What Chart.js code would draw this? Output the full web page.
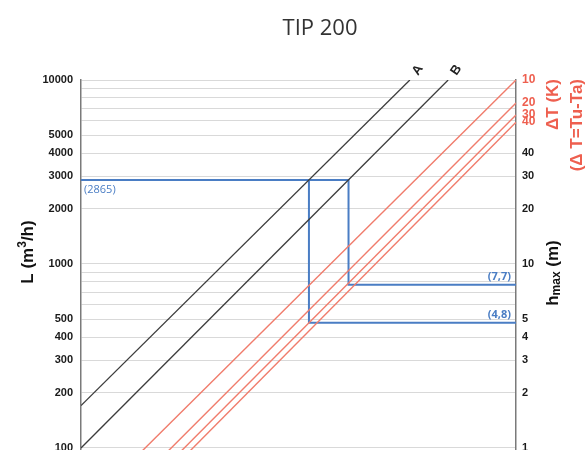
<!DOCTYPE html>
<html><head><meta charset="utf-8">
<script src="https://cdn.jsdelivr.net/npm/chart.js@4"></script>
<style>html,body{margin:0;padding:0;background:#fff;}canvas{display:block;}</style>
</head><body>
<canvas id="c" width="588" height="450"></canvas>
<script>
// ---- data ----
const chartTitle = 'TIP 200';
const flowTicks = [100,200,300,400,500,1000,2000,3000,4000,5000,10000];          // L (m3/h) labels
const gridValues = [100,200,300,400,500,600,700,800,900,1000,2000,3000,4000,5000,6000,7000,8000,9000,10000];
const hTicks = [1,2,3,4,5,10,20,30,40];                                           // h max (m) labels
const deltaT = [10,20,30,40];                                                      // ΔT (K)
const deltaTEndFlow = [10000,7500,6450,5900];   // L where each ΔT line meets the right axis
const deltaTStartPos = [13.8,19.8,22.8,24.8];   // horizontal position (%) of each ΔT line at L = 95
const deltaTStartFlow = 95;
const lineNames = ['A','B'];
const lineStartFlow = [170,100];                // L at the left axis
const lineEndPos = [75.6,84.4];                 // horizontal position (%) at L = 10000
const lineEndFlow = 10000;
const readFlow = 2865;
const readPos = [52.4,61.5];                    // where L = 2865 crosses A and B
const readH = [4.8,7.7];                        // h max read on the right axis
const readLabels = ['(4,8)','(7,7)'];
const flowLabel = '(2865)';

const RED = '#ee5f4f', RED_LINE = '#f07c6c', BLUE = '#4a7dc4', DARK = '#3c3c3c';

const datasets = [];
deltaT.forEach((t,i)=>{
  datasets.push({label:'ΔT '+t, data:[{x:deltaTStartPos[i],y:deltaTStartFlow},{x:100,y:deltaTEndFlow[i]}],
    borderColor:RED_LINE, borderWidth:1.4});
});
lineNames.forEach((n,i)=>{
  datasets.push({label:n, data:[{x:0,y:lineStartFlow[i]},{x:lineEndPos[i],y:lineEndFlow}],
    borderColor:DARK, borderWidth:1.3});
});
datasets.push({label:'read B', data:[{x:0,y:readFlow},{x:readPos[1],y:readFlow},{x:readPos[1],y:readH[1]*100},{x:100,y:readH[1]*100}],
  borderColor:BLUE, borderWidth:2});
datasets.push({label:'read A', data:[{x:readPos[0],y:readFlow},{x:readPos[0],y:readH[0]*100},{x:100,y:readH[0]*100}],
  borderColor:BLUE, borderWidth:2});
datasets.forEach(d=>{d.showLine=true;d.pointRadius=0;d.fill=false;d.tension=0;});

function rightLabel(v){
  const h = hTicks.findIndex(k=>k*100===v);
  if (h>=0) return {text:String(hTicks[h]), red:false};
  const t = deltaTEndFlow.indexOf(v);
  if (t>=0) return {text:String(deltaT[t]), red:true};
  return {text:'', red:false};
}

function drawSegments(ctx, segs, cx, cy, rot){
  // segs: [{text,font,dy,color}] drawn along the baseline, centred on (cx,cy)
  ctx.save();
  ctx.translate(cx,cy); ctx.rotate(rot);
  let total=0; segs.forEach(s=>{ctx.font=s.font; s.w=ctx.measureText(s.text).width; total+=s.w;});
  let x=-total/2;
  ctx.textBaseline='middle'; ctx.textAlign='left';
  segs.forEach(s=>{ctx.font=s.font; ctx.fillStyle=s.color; ctx.fillText(s.text,x,s.dy||0); x+=s.w;});
  ctx.restore();
}

const textPlugin = {
  id:'texts',
  afterDatasetsDraw(chart){
    const {ctx, scales:{x,y}} = chart;
    ctx.save();
    // title
    ctx.fillStyle='#333'; ctx.font='400 22px "Open Sans"'; ctx.textAlign='center'; ctx.textBaseline='middle';
    ctx.fillText(chartTitle, 320, 29);
    // A / B labels
    ctx.fillStyle='#222'; ctx.font='bold 13px "Liberation Sans"';
    lineNames.forEach((n,i)=>{
      const px=x.getPixelForValue(lineEndPos[i]), py=y.getPixelForValue(lineEndFlow);
      ctx.save(); ctx.translate(px+8,py-10); ctx.rotate(-55*Math.PI/180);
      ctx.textAlign='center'; ctx.textBaseline='middle'; ctx.fillText(n,0,0); ctx.restore();
    });
    // blue annotations
    ctx.fillStyle=BLUE; ctx.textBaseline='middle';
    ctx.font='11px "Open Sans"'; ctx.textAlign='left';
    ctx.fillText(flowLabel, x.left+3, y.getPixelForValue(readFlow)+10);
    ctx.font='bold 11px "Open Sans"'; ctx.textAlign='right';
    readH.forEach((h,i)=>{ ctx.fillText(readLabels[i], x.right-5, y.getPixelForValue(h*100)-8); });
    ctx.restore();
    // axis titles
    const B17='bold 17px "Liberation Sans"', B12='bold 12px "Liberation Sans"';
    drawSegments(ctx,[{text:'L (m',font:B17,color:'#111'},{text:'3',font:B12,dy:-5,color:'#111'},{text:'/h)',font:B17,color:'#111'}],28,252,-Math.PI/2);
    drawSegments(ctx,[{text:'h',font:B17,color:'#111'},{text:'max',font:B12,dy:4,color:'#111'},{text:' (m)',font:B17,color:'#111'}],553,273,-Math.PI/2);
    ctx.save();
    ctx.fillStyle=RED; ctx.font=B17; ctx.textAlign='right'; ctx.textBaseline='middle';
    ctx.translate(553,79); ctx.rotate(-Math.PI/2); ctx.fillText('ΔT (K)',0,0); ctx.restore();
    ctx.save();
    ctx.fillStyle=RED; ctx.font=B17; ctx.textAlign='right'; ctx.textBaseline='middle';
    ctx.translate(577,79); ctx.rotate(-Math.PI/2); ctx.fillText('(Δ T=Tu-Ta)',0,0); ctx.restore();
  }
};

new Chart(document.getElementById('c'), {
  type:'scatter',
  data:{datasets},
  options:{
    responsive:false, animation:false, devicePixelRatio:1,
    layout:{padding:{top:80,bottom:0,left:0,right:0}},
    plugins:{legend:{display:false}, tooltip:{enabled:false}, title:{display:false}},
    scales:{
      x:{type:'linear', min:0, max:100, display:false},
      y:{type:'logarithmic', position:'left', min:97.5, max:10000,
        afterBuildTicks:(s)=>{ s.ticks = gridValues.map(v=>({value:v})); },
        afterFit:(s)=>{ s.width=81; s.paddingTop=0; s.paddingBottom=0; },
        grid:{color:'#d9d9d9', lineWidth:1, drawTicks:false},
        border:{display:true, color:'#7a7a7a', width:1.5},
        ticks:{autoSkip:false, padding:8, color:'#1a1a1a',
          font:{family:'Liberation Sans', weight:'bold', size:11},
          callback:(v)=> flowTicks.includes(v) ? String(v) : ''}
      },
      y2:{type:'logarithmic', position:'right', min:97.5, max:10000,
        afterBuildTicks:(s)=>{ s.ticks = hTicks.map(h=>h*100).concat(deltaTEndFlow).sort((a,b)=>a-b).map(v=>({value:v})); },
        afterFit:(s)=>{ s.width=72; s.paddingTop=0; s.paddingBottom=0; },
        grid:{drawOnChartArea:false, drawTicks:false},
        border:{display:true, color:'#7a7a7a', width:1.5},
        ticks:{autoSkip:false, padding:6,
          callback:(v)=> rightLabel(v).text,
          color:(c)=> (c.tick && rightLabel(c.tick.value).red) ? RED : '#1a1a1a',
          font:(c)=> ({family:'Liberation Sans', weight:'bold', size:(c.tick && rightLabel(c.tick.value).red) ? 12 : 11})}
      }
    }
  },
  plugins:[textPlugin]
});
</script>
</body></html>
